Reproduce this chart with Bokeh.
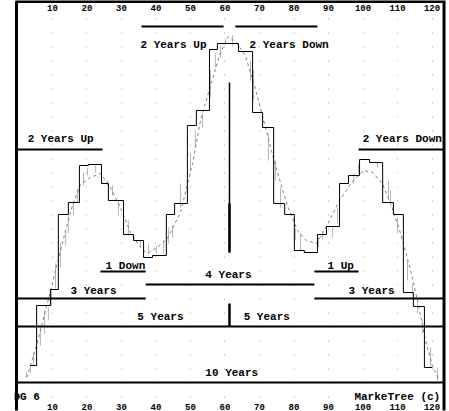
from bokeh.plotting import figure
from bokeh.models import Range1d, LinearAxis, FixedTicker
from bokeh.core.properties import value
from bokeh.embed import file_html
from bokeh.resources import INLINE

# ---- data (x: months, y: price-level units) ----
x_ticks = [10, 20, 30, 40, 50, 60, 70, 80, 90, 100, 110, 120]

step_x = [3.6, 5.4, 9.4, 11.7, 14.6, 17.8, 20.4, 24.2, 26.2, 30.6, 33.5, 36.4, 39.0,
          43.0, 45.4, 49.1, 51.7, 55.5, 57.8, 63.9, 68.0, 70.9, 74.1, 77.3, 80.1, 83.0,
          86.8, 89.4, 93.2, 95.8, 99.0, 101.9, 105.7, 108.8, 111.7, 114.6, 117.8, 120.1]
step_y = [46, 106, 122, 197, 209, 246, 247, 228, 211, 177, 171, 154, 156,
          197, 208, 286, 301, 362, 368, 360, 299, 284, 208, 197, 161, 159,
          177, 185, 228, 236, 252, 249, 209, 197, 119, 105, 44, 44]

smooth_x = [2.5, 5.4, 8.0, 10.9, 13.8, 15.8, 18.1, 21.0, 23.9, 26.8, 29.7, 32.6, 35.5,
            37.5, 40.4, 43.3, 47.1, 50.6, 52.9, 55.8, 58.7, 61.0, 63.3, 65.9, 68.8,
            71.2, 74.6, 78.1, 81.0, 83.6, 86.5, 89.1, 93.2, 96.7, 100.1, 102.8, 105.6,
            108.0, 110.9, 113.8, 116.1, 118.1, 120.1, 121.9]
smooth_y = [34, 66, 101, 141, 181, 206, 227, 234, 238, 224, 204, 179, 164,
            158, 164, 173, 199, 248, 291, 326, 359, 375, 369, 356, 323,
            291, 246, 206, 181, 171, 168, 183, 211, 229, 241, 239, 228,
            208, 178, 141, 106, 71, 46, 33]

# monthly ranges (light grey bars)
bar_x = [2.5, 3.6, 4.5, 6.5, 7.7, 8.8, 9.7, 10.9, 12.3, 13.8, 14.6, 16.1, 17.2, 19.0,
         20.1, 22.5, 25.9, 27.4, 29.1, 32.0, 35.5, 37.8, 40.1, 42.2, 43.6, 44.8, 47.1,
         50.0, 51.4, 53.5, 55.8, 57.2, 58.7, 60.1, 62.2, 67.4, 68.3, 72.6, 74.6, 76.1,
         80.4, 81.9, 87.1, 88.3, 91.2, 92.6, 97.3, 98.7, 104.2, 107.4, 108.0, 110.0,
         112.9, 114.3, 115.8, 117.2, 119.6, 121.6]
bar_hi = [39, 48, 59, 86, 101, 104, 121, 148, 168, 181, 196, 211, 223, 239,
          244, 246, 231, 226, 211, 191, 171, 168, 166, 171, 184, 186, 228,
          258, 281, 298, 341, 358, 366, 373, 376, 351, 341, 278, 251, 224,
          183, 178, 174, 181, 184, 204, 238, 248, 249, 231, 221, 194,
          151, 128, 108, 91, 64, 44]
bar_lo = [34, 38, 46, 66, 78, 91, 106, 123, 144, 166, 178, 196, 209, 226,
          236, 239, 226, 216, 196, 176, 164, 158, 158, 158, 168, 174, 204,
          241, 264, 284, 314, 344, 354, 366, 366, 331, 311, 251, 231, 204,
          171, 161, 164, 171, 174, 188, 228, 238, 244, 211, 206, 178,
          131, 118, 98, 78, 44, 31]

# cycle spans
cyc_x0 = [35.8, 63.0, -0.5, 98.7, 23.9, 85.9, 37.0, -0.5, 85.9, -0.5, 61.3, -0.5]
cyc_x1 = [59.6, 86.8, 24.5, 123.7, 37.0, 98.7, 85.9, 37.0, 123.7, 61.3, 123.7, 123.7]
cyc_y = [385, 385, 262, 262, 140, 140, 127, 113, 113, 85, 85, 29]

# centre (peak) marker
peak_x = [61.3, 61.3, 61.3]
peak_y0 = [329, 208, 108]
peak_y1 = [159, 159, 85]
peak_w = [1.5, 2.5, 2.5]

label_text = ["2 Years Up", "2 Years Down", "2 Years Up", "2 Years Down", "1 Down", "1 Up",
              "4 Years", "3 Years", "3 Years", "5 Years", "5 Years", "10 Years",
              "DG 6", "MarkeTree (c)"]
label_x = [35.5, 67.1, 2.8, 99.9, 25.4, 89.7, 54.3, 15.2, 95.8, 34.6, 65.4, 54.3, -1.3, 97.5]
label_y = [367, 367, 273, 273, 146, 146, 137, 121, 121, 95, 95, 39, 15, 15]

X0, X1 = -1.01, 124.2
Y0, Y1 = 0, 411
# chart frame edges (left, right, top)
FRAME_L, FRAME_R, FRAME_T = -0.43, 123.48, 410.0

p = figure(width=449, height=411, x_range=Range1d(X0, X1), y_range=Range1d(Y0, Y1),
           output_backend="svg", toolbar_location=None,
           x_axis_location=None, y_axis_location=None,
           min_border_left=14, min_border_right=3, min_border_top=0, min_border_bottom=0,
           outline_line_color=None, background_fill_color="white", border_fill_color="white")
p.styles = {"position": "absolute", "left": "0px", "top": "0px"}

p.ygrid.visible = False
p.xgrid.ticker = FixedTicker(ticks=x_ticks)
p.xgrid.grid_line_color = "#a8a8a8"
p.xgrid.grid_line_dash = "1 13"
p.xgrid.grid_line_width = 1

FONT = "Liberation Mono"


def tick_axis(side, loc):
    ax = LinearAxis(fixed_location=loc, ticker=FixedTicker(ticks=x_ticks),
                    axis_line_color=None, major_tick_line_color=None,
                    minor_tick_line_color=None, major_tick_in=0, major_tick_out=0,
                    major_label_standoff=1,
                    major_label_text_font=FONT, major_label_text_font_size="9px",
                    major_label_text_font_style="bold", major_label_text_color="black")
    p.add_layout(ax, side)


tick_axis("above", 400)
tick_axis("below", 9)

# monthly ranges
p.segment(x0=bar_x, y0=bar_lo, x1=bar_x, y1=bar_hi, line_color="#b4b4b4", line_width=1)
# smoothed cycle (dashed)
p.line(smooth_x, smooth_y, line_color="#808080", line_width=1, line_dash="3 3")
# quarterly step line
p.step(step_x, step_y, mode="after", line_color="black", line_width=1)

# cycle spans
p.segment(x0=cyc_x0, y0=cyc_y, x1=cyc_x1, y1=cyc_y, line_color="black", line_width=2)
p.segment(x0=peak_x, y0=peak_y0, x1=peak_x, y1=peak_y1, line_color="black", line_width=peak_w)

p.text(x=label_x, y=label_y, text=label_text, text_font=value(FONT),
       text_font_size="11px", text_font_style="bold", text_color="black",
       text_align="left", text_baseline="alphabetic")

# frame border: left, right and top strips
p.multi_line(xs=[[FRAME_L, FRAME_L], [FRAME_R, FRAME_R], [X0 + 0.3, X1 - 0.3]],
             ys=[[Y0 + 1, FRAME_T], [Y0 + 1, FRAME_T], [FRAME_T, FRAME_T]],
             line_color="black", line_width=3)

open("out.html", "w").write(file_html(p, INLINE))
